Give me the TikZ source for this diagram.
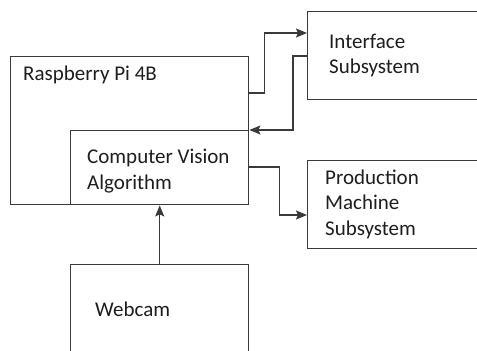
\documentclass[tikz,border=0pt]{standalone}
\usepackage{fontspec}
\setmainfont{Carlito}
\usetikzlibrary{arrows.meta,calc}
\definecolor{ln}{HTML}{3A3A3A}
\definecolor{tx}{HTML}{1E1E1E}
\tikzset{
  box/.style={draw=ln,line width=1.4pt,rectangle,anchor=north west,inner sep=0pt},
  lbl/.style={anchor=west,inner sep=0pt,text=tx,font=\fontsize{21}{25.5}\selectfont,align=left},
  arr/.style={draw=ln,line width=1.4pt,-{Stealth[length=11pt,width=9pt,inset=2pt]}},
}
\begin{document}
\begin{tikzpicture}[x=1pt,y=-1pt]
\useasboundingbox (0,0) rectangle (477,351);
\clip (0,0) rectangle (477,351);
\fill[white] (0,0) rectangle (477,351);
% boxes
\node[box,minimum width=238pt,minimum height=148pt] (rpi) at (10,56) {};
\node[box,minimum width=178pt,minimum height=74pt] (cv) at (70,130) {};
\node[box,minimum width=190pt,minimum height=88pt] (iface) at (307,11) {};
\node[box,minimum width=190pt,minimum height=88pt] (prod) at (307,160) {};
\node[box,minimum width=178pt,minimum height=100pt] (cam) at (70,264) {};
% labels
\node[lbl] (rpiT) at (23,75) {Raspberry Pi 4B};
\node[lbl] (cvT) at (87,171) {Computer Vision\\Algorithm};
\node[lbl] (ifT) at (329,55.5) {Interface\\Subsystem};
\node[lbl] (prT) at (325,204) {Production\\Machine\\Subsystem};
\node[lbl] (camT) at (95,309) {Webcam};
% connectors
\draw[arr] ([yshift=-37pt]rpi.north east) -- ++(15,0) |- ([yshift=-22pt]iface.north west);
\draw[arr] ([yshift=-45pt]iface.north west) -- ++(-14,0) |- (cv.north east);
\draw[arr] ([yshift=-37pt]cv.north east) -- ++(30,0) |- ([yshift=-55pt]prod.north west);
\draw[arr] (cam.north) -- (cv.south);
\end{tikzpicture}
\end{document}
